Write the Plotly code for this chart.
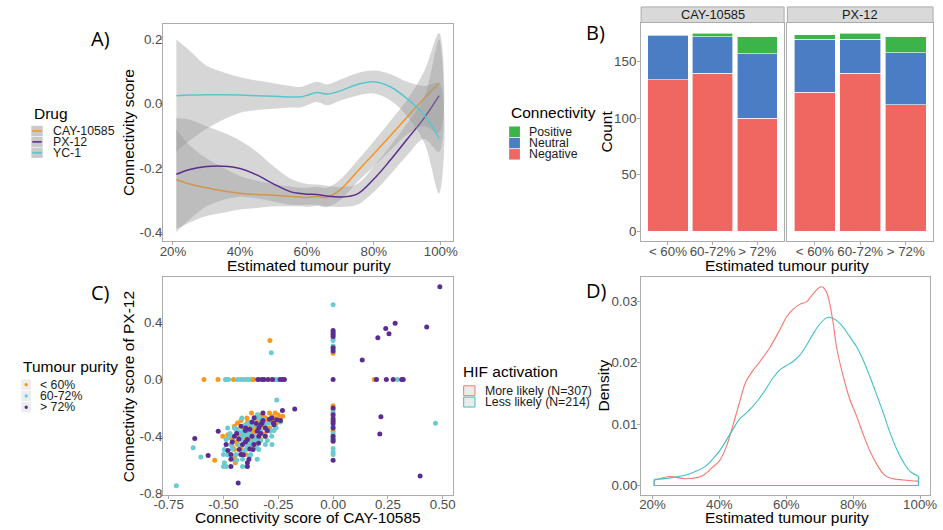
import plotly.graph_objects as go

W, H = 943, 530
FONT = "Liberation Sans, Arial, sans-serif"
BORDER = "#ABABAB"
TICKC = "#4D4D4D"

# ---------------- Panel A data ----------------
purity_grid = [21, 25, 30, 35, 40, 45, 50, 55, 58, 60, 63, 66, 70, 75, 80, 85, 90, 95, 99.5]
cay_fit = [-0.237, -0.25, -0.262, -0.272, -0.279, -0.283, -0.285, -0.289, -0.291, -0.292, -0.289, -0.292,
           -0.268, -0.212, -0.156, -0.099, -0.041, 0.016, 0.064]
cay_lo = [-0.39, -0.37, -0.35, -0.34, -0.33, -0.325, -0.32, -0.32, -0.32, -0.322, -0.318, -0.322,
          -0.3, -0.245, -0.195, -0.145, -0.095, -0.07, -0.09]
cay_hi = [-0.08, -0.13, -0.17, -0.2, -0.225, -0.24, -0.25, -0.258, -0.262, -0.262, -0.26, -0.262,
          -0.236, -0.178, -0.117, -0.053, 0.013, 0.1, 0.22]
px_fit = [-0.22, -0.205, -0.196, -0.195, -0.202, -0.222, -0.25, -0.274, -0.28, -0.282, -0.283, -0.288,
          -0.291, -0.282, -0.235, -0.175, -0.11, -0.045, 0.025]
px_lo = [-0.40, -0.36, -0.32, -0.30, -0.29, -0.295, -0.305, -0.315, -0.316, -0.315, -0.315, -0.32,
         -0.322, -0.315, -0.275, -0.22, -0.16, -0.11, -0.15]
px_hi = [-0.045, -0.05, -0.07, -0.09, -0.115, -0.15, -0.195, -0.233, -0.245, -0.25, -0.252, -0.256,
         -0.26, -0.25, -0.195, -0.13, -0.06, 0.02, 0.2]
yc_fit = [0.025, 0.027, 0.028, 0.028, 0.027, 0.025, 0.023, 0.021, 0.021, 0.026, 0.035, 0.03,
          0.04, 0.06, 0.068, 0.052, 0.015, -0.035, -0.108]
yc_lo = [-0.15, -0.115, -0.078, -0.05, -0.028, -0.02, -0.016, -0.012, -0.012, -0.005, 0.005, -0.005,
         0.01, 0.025, 0.032, 0.01, -0.04, -0.12, -0.28]
yc_hi = [0.2, 0.165, 0.118, 0.098, 0.082, 0.072, 0.064, 0.055, 0.052, 0.058, 0.068, 0.06,
         0.075, 0.095, 0.103, 0.092, 0.068, 0.055, 0.062]
drug_names = ["CAY-10585", "PX-12", "YC-1"]
drug_colors = ["#F7941E", "#5B2D8E", "#55C7CF"]

# ---------------- Panel B data ----------------
purity_groups = ["< 60%", "60-72%", "> 72%"]
cay_negative = [134, 140, 100]
cay_neutral = [39, 32, 57]
cay_positive = [1, 3, 15]
px_negative = [123, 140, 112]
px_neutral = [47, 30, 46]
px_positive = [4, 5, 14]
conn_names = ["Positive", "Neutral", "Negative"]
conn_colors = {"Positive": "#3DB44A", "Neutral": "#4A7DC4", "Negative": "#F06761"}

# ---------------- Panel C data ----------------
low_x = [-0.589, -0.525, -0.454, -0.372, -0.361, -0.336, -0.282,
         0.0, 0.0, 0.0, 0.0, 0.0, 0.188,
         -0.288,
         -0.372, -0.290, -0.264, -0.393, -0.309, -0.242, -0.436, -0.366, -0.369, -0.436, -0.380,
         -0.503, -0.391, -0.458, -0.331, -0.436, -0.450, -0.398, -0.450, -0.446, -0.54,
         -0.33, -0.35, -0.30, -0.28, -0.32, -0.38, -0.41, -0.36, -0.34, -0.43, -0.39, -0.47,
         -0.25, -0.27, -0.31, -0.34, -0.42, -0.45, -0.40, -0.37, -0.44, -0.46, -0.29, -0.26, -0.36,
         -0.30, -0.27, -0.33, -0.39, -0.35, -0.31, -0.44, -0.41, -0.38, -0.48, -0.36, -0.32, -0.29,
         -0.23, -0.42, -0.45]
low_y = [0, 0, 0, 0, 0, 0, 0,
         -0.186, -0.214, -0.265, -0.365, 0.184, 0,
         0.274,
         -0.237, -0.237, -0.237, -0.272, -0.272, -0.272, -0.307, -0.307, -0.342, -0.365, -0.365,
         -0.40, -0.40, -0.423, -0.423, -0.458, -0.493, -0.528, -0.563, -0.586, -0.57,
         -0.26, -0.29, -0.30, -0.26, -0.33, -0.32, -0.34, -0.37, -0.40, -0.39, -0.43, -0.41,
         -0.25, -0.29, -0.27, -0.25, -0.29, -0.33, -0.38, -0.46, -0.44, -0.47, -0.34, -0.31, -0.32,
         -0.28, -0.27, -0.29, -0.30, -0.35, -0.38, -0.35, -0.41, -0.42, -0.39, -0.43, -0.26, -0.30,
         -0.26, -0.48, -0.55]

mid_x = [-0.491, -0.485, -0.477, -0.436, -0.421, -0.41, -0.398, -0.386, -0.264, -0.255,
         0.0, 0.0, 0.0, 0.0, 0.0, 0.0, 0.0, 0.0, 0.0, 0.0, 0.0, 0.0,
         0.294, 0.467, -0.282, -0.257, -0.715, -0.638, -0.603,
         -0.346, -0.416, -0.339, -0.384, -0.294, -0.481, -0.450, -0.264, -0.413, -0.287,
         -0.473, -0.413, -0.369, -0.309, -0.488, -0.421, -0.361, -0.466, -0.384, -0.309,
         -0.279, -0.496, -0.398, -0.339, -0.5, -0.443, -0.376, -0.413, -0.346, -0.496,
         -0.5, -0.488, -0.413,
         -0.36, -0.40, -0.38, -0.35, -0.33, -0.31, -0.43, -0.37, -0.42, -0.45, -0.28, -0.26,
         -0.39, -0.41, -0.34, -0.36,
         -0.32, -0.37, -0.40, -0.44, -0.47, -0.39, -0.36, -0.33, -0.30, -0.27, -0.43, -0.46,
         -0.41, -0.38, -0.44, -0.48, -0.24, -0.35]
mid_y = [0, 0, 0, 0, 0, 0, 0, 0, 0, 0,
         -0.232, -0.33, -0.381, -0.411, -0.486, -0.511, -0.528, 0.526, 0.287, 0.275, 0.235, 0.212,
         0, -0.309, 0.188, -0.144, -0.749, -0.481, -0.546,
         -0.249, -0.272, -0.272, -0.307, -0.307, -0.342, -0.342, -0.342, -0.365, -0.365,
         -0.40, -0.40, -0.40, -0.40, -0.423, -0.423, -0.423, -0.458, -0.458, -0.458,
         -0.458, -0.493, -0.493, -0.493, -0.528, -0.528, -0.528, -0.563, -0.563, -0.586,
         -0.614, -0.614, -0.614,
         -0.30, -0.35, -0.38, -0.42, -0.36, -0.32, -0.37, -0.44, -0.42, -0.40, -0.40, -0.34,
         -0.47, -0.38, -0.33, -0.40,
         -0.28, -0.33, -0.32, -0.36, -0.38, -0.39, -0.44, -0.43, -0.43, -0.36, -0.46, -0.49,
         -0.51, -0.54, -0.57, -0.53, -0.30, -0.48]

high_x = [-0.343, -0.324, -0.315, -0.297, -0.276, -0.242, -0.231, -0.222,
          0.0, 0.0, 0.0, 0.0, 0.0, 0.0, 0.0, 0.0, 0.0, 0.0,
          0.0, 0.0, 0.0, 0.0, 0.0, 0.0, 0.0,
          0.487, 0.427, 0.283, 0.24, 0.255, 0.204, 0.133,
          0.198, 0.243, 0.274, 0.313, 0.32, 0.218, 0.213, 0.397,
          -0.631, -0.57, -0.175,
          -0.320, -0.231, -0.279, -0.257, -0.324, -0.272, -0.398, -0.339, -0.309, -0.524,
          -0.346, -0.450, -0.339, -0.391, -0.488, -0.413, -0.361, -0.428, -0.365, -0.466,
          -0.421, -0.466, -0.384, -0.391, -0.466, -0.391, -0.433,
          -0.35, -0.38, -0.33, -0.30, -0.42, -0.37, -0.40, -0.44, -0.29, -0.32, -0.36,
          -0.33, -0.37, -0.40, -0.31, -0.43, -0.46, -0.38, -0.34, -0.27, -0.24, -0.41, -0.48]
high_y = [0, 0, 0, 0, 0, 0, 0, 0,
          -0.202, -0.249, -0.279, -0.295, -0.311, -0.342, -0.4, -0.423, -0.435, -0.57,
          0.345, 0.331, 0.317, 0.303, 0.224, 0.2, 0.0,
          0.652, 0.37, 0.396, 0.358, 0.321, 0.293, 0.137,
          0, 0, 0, 0, 0, -0.263, -0.384, -0.681,
          -0.416, -0.535, -0.209,
          -0.237, -0.218, -0.272, -0.284, -0.307, -0.307, -0.342, -0.342, -0.342, -0.365,
          -0.365, -0.40, -0.40, -0.423, -0.458, -0.458, -0.458, -0.493, -0.493, -0.528,
          -0.528, -0.563, -0.563, -0.586, -0.614, -0.614, -0.73,
          -0.31, -0.35, -0.38, -0.36, -0.33, -0.40, -0.44, -0.38, -0.28, -0.29, -0.27,
          -0.32, -0.30, -0.36, -0.40, -0.42, -0.44, -0.49, -0.45, -0.32, -0.29, -0.53, -0.50]
purity_colors = ["#F8991D", "#6ACBD1", "#5B2D91"]

# ---------------- Panel D data ----------------
more_x = [20.5, 25, 30, 35, 38, 40, 42, 44, 46, 48, 50, 52, 55, 58, 60, 62, 64, 66, 68, 70, 71, 72,
          73, 74, 75, 77, 79, 81, 83, 85, 87, 89, 91, 95, 99.5]
more_y = [0.0008, 0.00145, 0.0011, 0.0016, 0.003, 0.004, 0.0062, 0.0097, 0.0135, 0.017, 0.0187, 0.0201,
          0.0224, 0.0253, 0.0274, 0.0287, 0.0295, 0.0299, 0.0312, 0.0323, 0.0323, 0.0315, 0.0296, 0.0265,
          0.0226, 0.0178, 0.014, 0.0113, 0.0083, 0.0056, 0.0035, 0.0019, 0.0012, 0.0009, 0.0007]
less_x = [20.5, 25, 30, 33, 36, 38, 40, 42, 44, 46, 48, 50, 52, 54, 56, 58, 60, 62, 64, 66, 68, 70,
          72, 73, 75, 77, 79, 81, 83, 85, 87, 89, 91, 93, 95, 97, 99.5]
less_y = [0.001, 0.0012, 0.0017, 0.0023, 0.0032, 0.0043, 0.0056, 0.0073, 0.0091, 0.0108, 0.0118, 0.0129,
          0.0142, 0.0158, 0.0175, 0.0188, 0.0195, 0.0202, 0.0212, 0.0228, 0.0247, 0.0263, 0.0273, 0.0274,
          0.0269, 0.0258, 0.0242, 0.0226, 0.0204, 0.0177, 0.0148, 0.0118, 0.0086, 0.0059, 0.0038, 0.0023,
          0.0015]
hif_names = ["More likely (N=307)", "Less likely (N=214)"]
hif_colors = ["#F8766D", "#3FC0C8"]


def fx(px):
    return px / W


def fy(py):
    return 1 - py / H


fig = go.Figure()

# ---- Panel A: ribbons + smooth lines ----
fits = [(cay_fit, cay_lo, cay_hi), (px_fit, px_lo, px_hi), (yc_fit, yc_lo, yc_hi)]
for (fit, lo, hi), col in zip(fits, drug_colors):
    fig.add_trace(go.Scatter(
        x=purity_grid + purity_grid[::-1], y=hi + lo[::-1], fill="toself",
        fillcolor="rgba(153,153,153,0.4)", line=dict(width=0), mode="lines",
        line_shape="spline", hoverinfo="skip", showlegend=False, xaxis="x", yaxis="y"))
    fig.add_trace(go.Scatter(
        x=purity_grid, y=fit, mode="lines", line=dict(color=col, width=1.5, shape="spline"),
        showlegend=False, xaxis="x", yaxis="y"))

# ---- Panel B: stacked bars, two facets ----
for axn, vals in (("2", (cay_negative, cay_neutral, cay_positive)), ("3", (px_negative, px_neutral, px_positive))):
    for name, v in zip(["Negative", "Neutral", "Positive"], vals):
        fig.add_trace(go.Bar(
            x=purity_groups, y=v, width=0.9, marker=dict(color=conn_colors[name], line=dict(color="white", width=0.6)),
            showlegend=False, xaxis="x" + axn, yaxis="y" + axn, name=name))

# ---- Panel C: scatter ----
for xs, ys, col in ((low_x, low_y, purity_colors[0]), (mid_x, mid_y, purity_colors[1]), (high_x, high_y, purity_colors[2])):
    fig.add_trace(go.Scatter(x=xs, y=ys, mode="markers", marker=dict(size=5, color=col),
                             showlegend=False, xaxis="x4", yaxis="y4"))

# ---- Panel D: density outlines ----
for xs, ys, col in ((more_x, more_y, hif_colors[0]), (less_x, less_y, hif_colors[1])):
    fig.add_trace(go.Scatter(x=xs, y=ys, mode="lines", line=dict(color=col, width=1.1, shape="spline"),
                             showlegend=False, xaxis="x5", yaxis="y5"))
    fig.add_trace(go.Scatter(x=[xs[-1], xs[-1], xs[0], xs[0]], y=[ys[-1], 0, 0, ys[0]], mode="lines",
                             line=dict(color=col, width=1.1), showlegend=False, xaxis="x5", yaxis="y5"))

tickfont = dict(family=FONT, size=13.3, color=TICKC)
base = dict(showline=True, mirror=True, linecolor=BORDER, linewidth=1.3, ticks="outside", ticklen=3,
            tickcolor=BORDER, tickwidth=1, showgrid=False, zeroline=False, tickfont=tickfont)
xbase = dict(base, ticklabelstandoff=-5)
xbase_low = dict(base, ticklabelstandoff=-6)

pct_vals = [20, 40, 60, 80, 100]
pct_text = ["20%", "40%", "60%", "80%", "100%"]

fig.update_layout(
    width=W, height=H, margin=dict(l=0, r=0, t=0, b=0), paper_bgcolor="white", plot_bgcolor="white",
    barmode="stack", bargap=0.1,
    xaxis=dict(xbase, anchor="y", domain=[fx(156), fx(451)], range=[17.07, 103.6], tickvals=pct_vals, ticktext=pct_text),
    yaxis=dict(base, anchor="x", domain=[fy(243), fy(24)], range=[-0.427, 0.249], tickvals=[-0.4, -0.2, 0, 0.2],
               ticktext=["-0.4", "-0.2", "0.0", "0.2"], ticklabelstandoff=-6),
    xaxis2=dict(xbase, anchor="y2", domain=[fx(642.7), fx(788.3)], range=[-0.6, 2.6], type="category"),
    yaxis2=dict(base, anchor="x2", domain=[fy(243), fy(23.3)], range=[-8.5, 184.2], tickvals=[0, 50, 100, 150],
                ticklabelstandoff=-2),
    xaxis3=dict(xbase, anchor="y3", domain=[fx(791.7), fx(940)], range=[-0.6, 2.6], type="category"),
    yaxis3=dict(base, anchor="x3", domain=[fy(243), fy(23.3)], range=[-8.5, 184.2], ticks="", showticklabels=False),
    xaxis4=dict(xbase_low, anchor="y4", domain=[fx(156), fx(450.7)], range=[-0.775, 0.545],
                tickvals=[-0.75, -0.5, -0.25, 0, 0.25, 0.5],
                ticktext=["-0.75", "-0.50", "-0.25", "0.00", "0.25", "0.50"]),
    yaxis4=dict(base, anchor="x4", domain=[fy(500), fy(280)], range=[-0.816, 0.719], tickvals=[-0.8, -0.4, 0, 0.4],
                ticktext=["-0.8", "-0.4", "0.0", "0.4"], ticklabelstandoff=-6),
    xaxis5=dict(xbase_low, anchor="y5", domain=[fx(642.7), fx(936.7)], range=[16.6, 102.9], tickvals=pct_vals, ticktext=pct_text),
    yaxis5=dict(base, anchor="x5", domain=[fy(500), fy(280)], range=[-0.0016, 0.0339], tickvals=[0, 0.01, 0.02, 0.03],
                ticktext=["0.00", "0.01", "0.02", "0.03"], ticklabelstandoff=-3),
)

shapes = []
ann = []


def text(px, py, s, size=15.5, color="black", anchor="center", angle=0, family=FONT):
    ann.append(dict(x=fx(px), y=fy(py), xref="paper", yref="paper", text=s, showarrow=False,
                    xanchor=anchor, yanchor="middle", textangle=angle,
                    font=dict(family=family, size=size, color=color)))


def rect(x0, y0, x1, y1, fill, line=None, lw=0):
    shapes.append(dict(type="rect", xref="paper", yref="paper", x0=fx(x0), x1=fx(x1), y0=fy(y1), y1=fy(y0),
                       fillcolor=fill, line=dict(color=line or fill, width=lw), layer="above"))


# panel labels
for lbl, px, py in (("A)", 92.5, 38.5), ("B)", 596, 33.3), ("C)", 92, 295), ("D)", 597, 293.3)):
    text(px, py, lbl, size=20, family="Open Sans, sans-serif")

# axis titles
text(304, 268, "Estimated tumour purity")
text(120, 133.3, "Connectivity score", angle=-90)
text(791.4, 268, "Estimated tumour purity")
text(606.5, 133.3, "Count", angle=-90)
text(303.3, 522.5, "Connectivity score of CAY-10585")
text(120, 390, "Connectivity score of PX-12", angle=-90)
text(790.8, 522.5, "Estimated tumour purity")
text(604, 389, "Density", angle=-90)

# facet strips
for (x0, x1), lab in (((642.7, 788.3), "CAY-10585"), ((791.7, 940), "PX-12")):
    rect(x0, 7, x1, 22.7, "#D9D9D9", BORDER, 1)
    text((x0 + x1) / 2, 15, lab, size=12.8, color="#1A1A1A")

# Drug legend
text(22, 115, "Drug", anchor="left")
for i, (nm, col) in enumerate(zip(drug_names, drug_colors)):
    cy = 132.2 + i * 11
    rect(21.7, cy - 5.2, 33.3, cy + 5.2, "#C9C9C9")
    shapes.append(dict(type="line", xref="paper", yref="paper", x0=fx(22.7), x1=fx(32.3), y0=fy(cy), y1=fy(cy),
                       line=dict(color=col, width=1.6), layer="above"))
    text(41.5, cy, nm, size=12.3, color="#1A1A1A", anchor="left")

# Connectivity legend
text(508.3, 113.3, "Connectivity", anchor="left")
for i, nm in enumerate(conn_names):
    cy = 133 + i * 11.4
    rect(508.3, cy - 5.3, 519.3, cy + 5.3, conn_colors[nm])
    text(527, cy, nm, size=12.3, color="#1A1A1A", anchor="left")

# Tumour purity legend
text(11.7, 370, "Tumour purity", anchor="left")
for i, (nm, col) in enumerate(zip(purity_groups, purity_colors)):
    cy = 388.3 + i * 11.4
    rect(11.5, cy - 5.2, 21.5, cy + 5.2, "#EDEDED")
    shapes.append(dict(type="circle", xref="paper", yref="paper", x0=fx(14.8), x1=fx(18.2),
                       y0=fy(cy + 1.7), y1=fy(cy - 1.7), fillcolor=col, line=dict(width=0), layer="above"))
    text(28.3, cy, nm, size=12.3, color="#1A1A1A", anchor="left")

# HIF activation legend
text(459.5, 375, "HIF activation", anchor="left")
for i, (nm, col) in enumerate(zip(hif_names, hif_colors)):
    cy = 394.5 + i * 11.4
    rect(462, cy - 5, 473.5, cy + 5, "#EBEBEB", col, 1)
    text(481.5, cy, nm, size=12.3, color="#1A1A1A", anchor="left")

fig.update_layout(shapes=shapes, annotations=ann)
fig.write_html("out.html")
